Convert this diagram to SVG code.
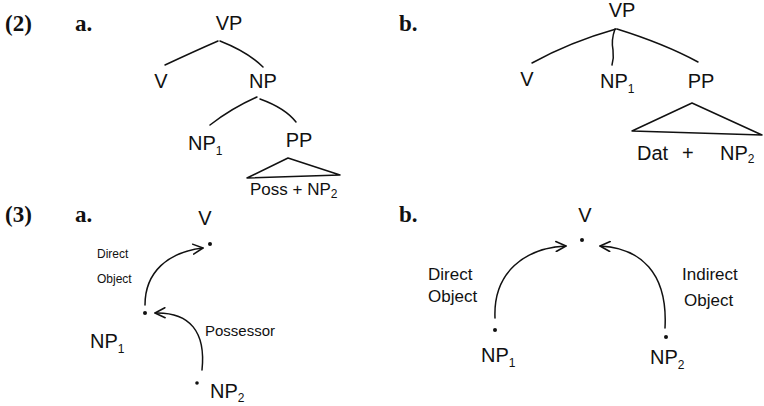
<svg xmlns="http://www.w3.org/2000/svg" width="764" height="406" viewBox="0 0 764 406">
<style>
.num{font-family:"Liberation Serif",serif;font-weight:bold;font-size:23px;fill:#111}
.lab{font-family:"Liberation Sans",sans-serif;fill:#111}
.big{font-size:20px}
.med{font-size:17px}
.sm{font-size:12px}
.ln{fill:none;stroke:#111;stroke-width:1.5;stroke-linecap:round;stroke-linejoin:round}
.dot{fill:#111}
</style>
<defs>
<marker id="ah" viewBox="0 0 12 12" refX="11" refY="6" markerWidth="12" markerHeight="12" markerUnits="userSpaceOnUse" orient="auto">
<path d="M1,1 L11,6 L1,11" fill="none" stroke="#111" stroke-width="1.5" stroke-linecap="round" stroke-linejoin="round"/>
</marker>
</defs>
<rect width="764" height="406" fill="#fff"/>

<g id="labels">
<text class="num" x="5" y="31">(2)</text>
<text class="num" x="75" y="31">a.</text>
<text class="num" x="399" y="31">b.</text>
<text class="num" x="5" y="222">(3)</text>
<text class="num" x="75" y="222">a.</text>
<text class="num" x="399" y="222">b.</text>
</g>

<g id="connectors">
<path class="ln" d="M218,41 Q195,51 165,65"/>
<path class="ln" d="M220,41 Q248,52 263,67"/>
<path class="ln" d="M257,97 Q232,108 210,125"/>
<path class="ln" d="M260,99 Q285,108 296,122"/>
<path class="ln" d="M288,158 L247,178 L340,175 Z"/>
<path class="ln" d="M616,29 Q570,42 532,63"/>
<path class="ln" d="M615,29 Q611,40 613,50 Q614,58 612,65"/>
<path class="ln" d="M617,29 Q665,44 698,62"/>
<path class="ln" d="M692,103 L632,131 L762,135 Z"/>
<path class="ln" marker-end="url(#ah)" d="M145,305 C145,272 168,252 203,248"/>
<path class="ln" marker-end="url(#ah)" d="M202,370 C206,332 190,312 155,313"/>
<path class="ln" marker-end="url(#ah)" d="M495,318 C493,272 525,248 566,246"/>
<path class="ln" marker-end="url(#ah)" d="M665,328 C668,272 640,248 600,246"/>
</g>

<g id="tree-a-VP"><text class="lab big" x="229" y="30" text-anchor="middle">VP</text></g>
<g id="tree-a-V"><text class="lab big" x="161" y="88" text-anchor="middle">V</text></g>
<g id="tree-a-NP"><text class="lab big" x="263" y="88" text-anchor="middle">NP</text></g>
<g id="tree-a-NP1"><text class="lab big" x="188" y="150">NP<tspan class="sm" dy="5">1</tspan></text></g>
<g id="tree-a-PP"><text class="lab big" x="299" y="147" text-anchor="middle">PP</text></g>
<g id="tree-a-PossNP2"><text class="lab med" x="250" y="195">Poss + NP<tspan class="sm" dy="3">2</tspan></text></g>

<g id="tree-b-VP"><text class="lab big" x="622" y="17" text-anchor="middle">VP</text></g>
<g id="tree-b-V"><text class="lab big" x="527" y="86" text-anchor="middle">V</text></g>
<g id="tree-b-NP1"><text class="lab big" x="600" y="88">NP<tspan class="sm" dy="5">1</tspan></text></g>
<g id="tree-b-PP"><text class="lab big" x="701" y="88" text-anchor="middle">PP</text></g>
<g id="tree-b-DatNP2"><text class="lab big" x="637" y="160">Dat<tspan x="682">+</tspan><tspan x="720">NP</tspan><tspan class="sm" dy="3">2</tspan></text></g>

<g id="graph-a-V"><text class="lab big" x="205" y="225" text-anchor="middle">V</text><circle class="dot" cx="210" cy="244" r="2"/></g>
<g id="graph-a-NP1"><circle class="dot" cx="145" cy="313" r="2"/><text class="lab big" x="90" y="348">NP<tspan class="sm" dy="5">1</tspan></text></g>
<g id="graph-a-NP2"><circle class="dot" cx="197" cy="383" r="1.8"/><text class="lab big" x="210" y="398">NP<tspan class="sm" dy="4">2</tspan></text></g>
<g id="graph-a-labels">
<text class="lab sm" x="97" y="258">Direct</text>
<text class="lab sm" x="97" y="283">Object</text>
<text class="lab" font-size="15" x="205" y="336">Possessor</text>
</g>

<g id="graph-b-V"><text class="lab big" x="585" y="222" text-anchor="middle">V</text><circle class="dot" cx="582" cy="240" r="2"/></g>
<g id="graph-b-NP1"><circle class="dot" cx="495" cy="330" r="2"/><text class="lab big" x="481" y="362">NP<tspan class="sm" dy="5">1</tspan></text></g>
<g id="graph-b-NP2"><circle class="dot" cx="666" cy="337" r="2"/><text class="lab big" x="650" y="364">NP<tspan class="sm" dy="5">2</tspan></text></g>
<g id="graph-b-labels">
<text class="lab" font-size="17" x="428" y="280">Direct</text>
<text class="lab" font-size="17" x="428" y="302">Object</text>
<text class="lab" font-size="17" x="682" y="280">Indirect</text>
<text class="lab" font-size="17" x="684" y="306">Object</text>
</g>
</svg>
